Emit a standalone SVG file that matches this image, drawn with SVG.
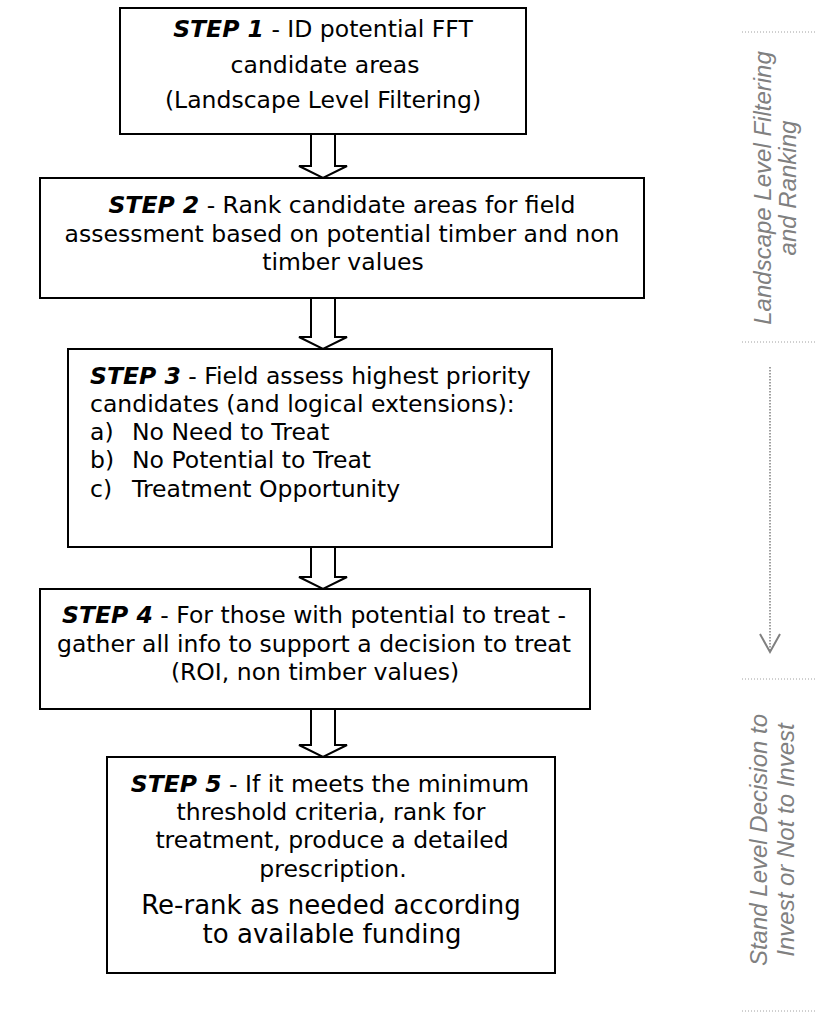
<svg xmlns="http://www.w3.org/2000/svg" width="816" height="1015" viewBox="0 0 816 1015">
<style>
.box{fill:#fff;stroke:#000;stroke-width:2}
.arr{fill:#fff;stroke:#000;stroke-width:2;stroke-linejoin:miter}
.t{font-family:"DejaVu Sans",Verdana,sans-serif;font-size:23.5px;fill:#000}
.c{text-anchor:middle}
.b{font-weight:bold;font-style:italic}
.big{font-size:26px}
.side{font-family:"Liberation Sans",Arial,sans-serif;font-style:italic;font-size:24px;fill:#808080;text-anchor:middle}
.dot{stroke:#a0a0a0;stroke-width:1;stroke-dasharray:1 2;fill:none}
.vdot{stroke:#808080;stroke-width:1.5;stroke-dasharray:1.5 1.5;fill:none}
.chev{stroke:#808080;stroke-width:2;fill:none}
</style>
<rect width="816" height="1015" fill="#fff"/>
<g id="connectors">
<polygon class="arr" points="311,134 335,134 335,166 347,166 323,178 299,166 311,166"/>
<polygon class="arr" points="311,298 335,298 335,337 347,337 323,349 299,337 311,337"/>
<polygon class="arr" points="311,547 335,547 335,577 347,577 323,589 299,577 311,577"/>
<polygon class="arr" points="311,709 335,709 335,745 347,745 323,757 299,745 311,745"/>
</g>
<g id="step1">
<rect class="box" x="120" y="8" width="406" height="126"/>
<text class="t c" x="323" y="37"><tspan class="b">STEP 1</tspan> - ID potential FFT</text>
<text class="t c" x="325" y="73">candidate areas</text>
<text class="t c" x="323" y="108">(Landscape Level Filtering)</text>
</g>
<g id="step2">
<rect class="box" x="40" y="178" width="604" height="120"/>
<text class="t c" x="342" y="213"><tspan class="b">STEP 2</tspan> - Rank candidate areas for field</text>
<text class="t c" x="342" y="242">assessment based on potential timber and non</text>
<text class="t c" x="343" y="270">timber values</text>
</g>
<g id="step3">
<rect class="box" x="68" y="349" width="484" height="198"/>
<text class="t" x="90" y="384"><tspan class="b">STEP 3</tspan> - Field assess highest priority</text>
<text class="t" x="90" y="412">candidates (and logical extensions):</text>
<text class="t" x="90" y="440">a)<tspan x="132">No Need to Treat</tspan></text>
<text class="t" x="90" y="468">b)<tspan x="132">No Potential to Treat</tspan></text>
<text class="t" x="90" y="497">c)<tspan x="132">Treatment Opportunity</tspan></text>
</g>
<g id="step4">
<rect class="box" x="40" y="589" width="550" height="120"/>
<text class="t c" x="314" y="623"><tspan class="b">STEP 4</tspan> - For those with potential to treat -</text>
<text class="t c" x="314" y="652">gather all info to support a decision to treat</text>
<text class="t c" x="315" y="680">(ROI, non timber values)</text>
</g>
<g id="step5">
<rect class="box" x="107" y="757" width="448" height="216"/>
<text class="t c" x="330" y="792"><tspan class="b">STEP 5</tspan> - If it meets the minimum</text>
<text class="t c" x="331" y="820">threshold criteria, rank for</text>
<text class="t c" x="332" y="848">treatment, produce a detailed</text>
<text class="t c" x="333" y="877">prescription.</text>
<text class="t c big" x="331" y="914">Re-rank as needed according</text>
<text class="t c big" x="332" y="943">to available funding</text>
</g>
<g id="landscape-level">
<line class="dot" x1="742" y1="32" x2="816" y2="32"/>
<line class="dot" x1="742" y1="342" x2="816" y2="342"/>
<text class="side" transform="translate(771,188) rotate(-90)">Landscape Level Filtering</text>
<text class="side" transform="translate(796,188) rotate(-90)">and Ranking</text>
</g>
<g id="side-connector">
<line class="vdot" x1="770" y1="367" x2="770" y2="650"/>
<polyline class="chev" points="760,634 770,652 780,634"/>
</g>
<g id="stand-level">
<line class="dot" x1="742" y1="679" x2="816" y2="679"/>
<line class="dot" x1="742" y1="1011" x2="816" y2="1011"/>
<text class="side" transform="translate(767,840) rotate(-90)">Stand Level Decision to</text>
<text class="side" transform="translate(794,840) rotate(-90)">Invest or Not to Invest</text>
</g>
</svg>
